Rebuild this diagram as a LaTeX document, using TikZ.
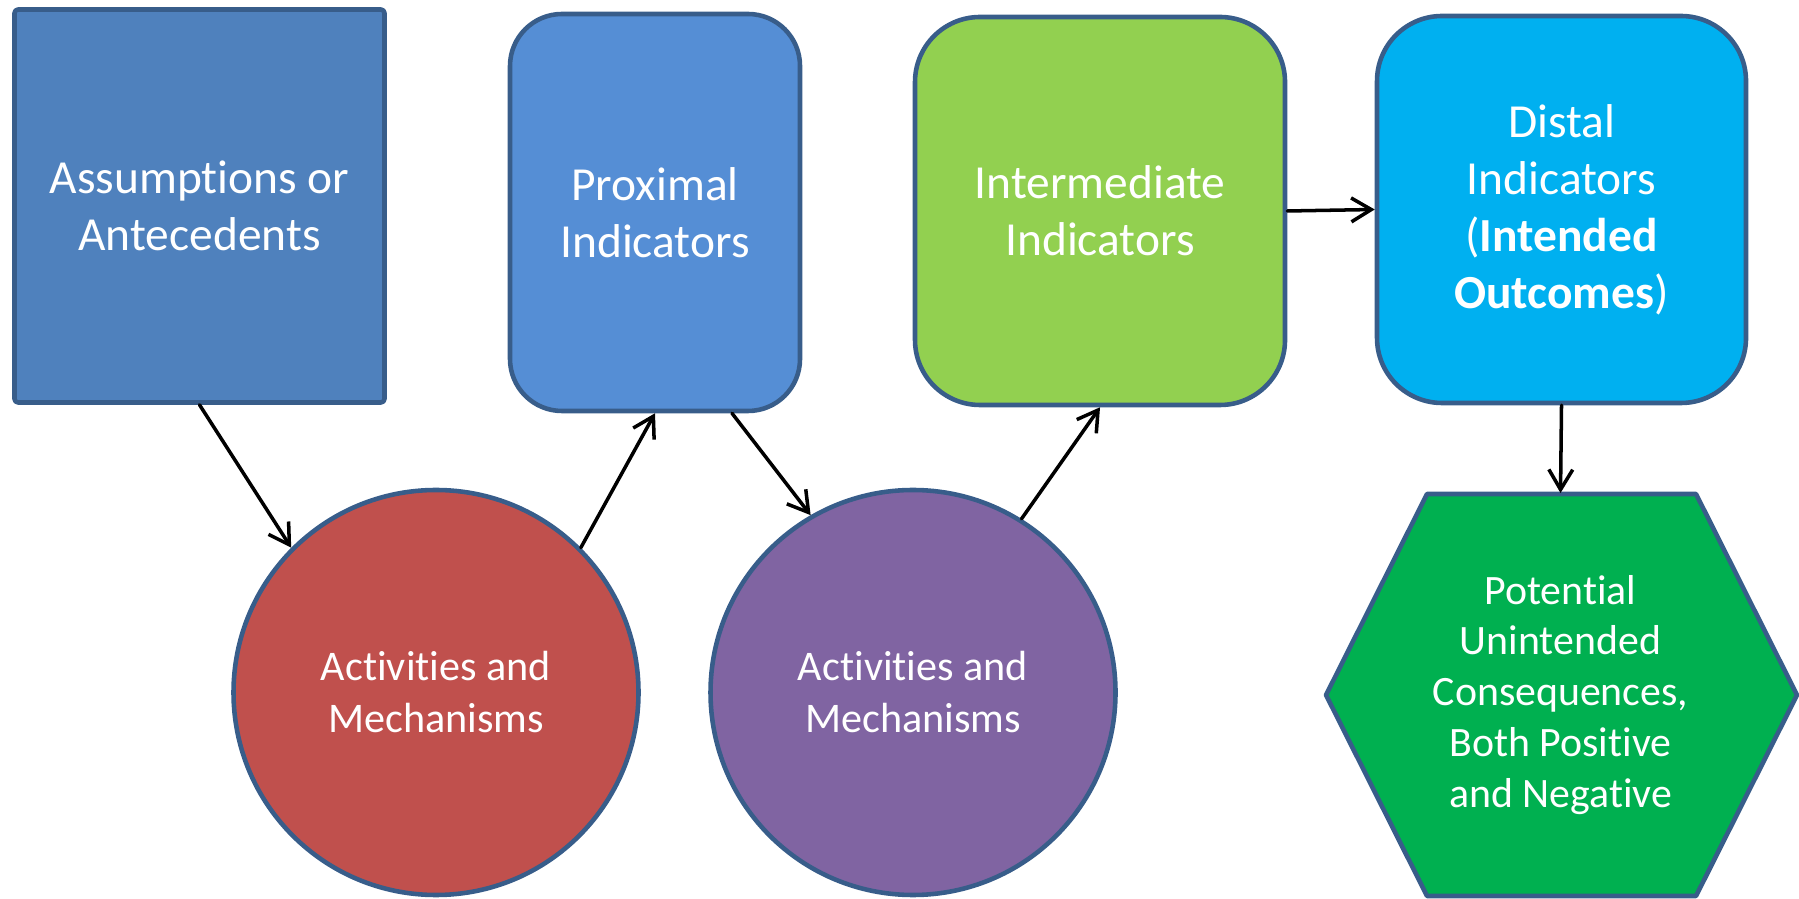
\documentclass[tikz,border=0pt]{standalone}
\usepackage{fontspec}
\setmainfont[Ligatures={NoCommon,NoRequired,NoContextual}]{Carlito}
\usetikzlibrary{arrows.meta}
\definecolor{rim}{HTML}{385D8A}
\definecolor{assumpblue}{HTML}{4F81BD}
\definecolor{proxblue}{HTML}{558ED5}
\definecolor{intergreen}{HTML}{92D050}
\definecolor{distalcyan}{HTML}{00B0F0}
\definecolor{actred}{HTML}{C0504D}
\definecolor{actpurple}{HTML}{8064A2}
\definecolor{unintgreen}{HTML}{00B050}
\begin{document}
\begin{tikzpicture}[line join=round, line cap=round,
	>={Straight Barb[length=5.7pt,width=6.8pt]},
	indbox/.style={draw=rim, line width=1.3pt, text=white, align=center, inner sep=0pt,
		font=\fontsize{13.5}{16.2}\selectfont},
	actcirc/.style={circle, draw=rim, line width=1.3pt, text=white, align=center, inner sep=0pt,
		minimum size=4.05cm, font=\fontsize{12}{14.8}\selectfont},
	arr/.style={->, line width=1pt}]
	% Khung
	\useasboundingbox (0,0) rectangle (17.99,8.98);
	% Tâm các hình
	\coordinate (C1) at (1.995,6.92);
	\coordinate (C2) at (6.55,6.855);
	\coordinate (C3) at (11.00,6.87);
	\coordinate (C4) at (15.615,6.885);
	\coordinate (K1) at (4.36,2.055);
	\coordinate (K2) at (9.13,2.055);
	\coordinate (H) at (15.605,2.03);
	% Các hộp chỉ số
	\node[indbox, fill=assumpblue, minimum width=3.70cm, minimum height=3.93cm, rounded corners=1pt] (assump) at (C1) {Assumptions or\\Antecedents};
	\node[indbox, fill=proxblue, minimum width=2.90cm, minimum height=3.97cm, rounded corners=0.52cm] (prox) at (C2) {Proximal\\Indicators};
	\node[indbox, fill=intergreen, minimum width=3.70cm, minimum height=3.88cm, rounded corners=0.65cm] (inter) at (C3) {Intermediate\\Indicators};
	\node[indbox, fill=distalcyan, minimum width=3.69cm, minimum height=3.87cm, rounded corners=0.65cm] (distal) at (C4) {Distal\\Indicators\\(\textbf{Intended}\\\textbf{Outcomes})};
	% Hai hình tròn
	\node[actcirc, fill=actred] (act1) at (K1) {Activities and\\Mechanisms};
	\node[actcirc, fill=actpurple] (act2) at (K2) {Activities and\\Mechanisms};
	% Lục giác
	\filldraw[draw=rim, fill=unintgreen, line width=1.3pt] (H) ++(-2.345,0) -- ++(1.01,2.01) -- ++(2.69,0) -- ++(1.01,-2.01) -- ++(-1.01,-2.01) -- ++(-2.69,0) -- cycle;
	\node[text=white, align=center, inner sep=0pt, outer sep=0pt, minimum width=4.7cm, minimum height=4.04cm,
		font=\fontsize{11.9}{14.5}\selectfont] (unint) at (H) {Potential\\Unintended\\Consequences,\\Both Positive\\and Negative};
	% Mũi tên
	\draw[arr] (assump.south) -- (act1.135);
	\draw[arr] (act1.45) -- (prox.south);
	\draw[arr] ([xshift=0.77cm]prox.south) -- (act2.120);
	\draw[arr] (act2.58) -- (inter.south);
	\draw[arr] (inter.east) -- (distal.west);
	\draw[arr] (distal.south) -- (unint.north);
\end{tikzpicture}
\end{document}
